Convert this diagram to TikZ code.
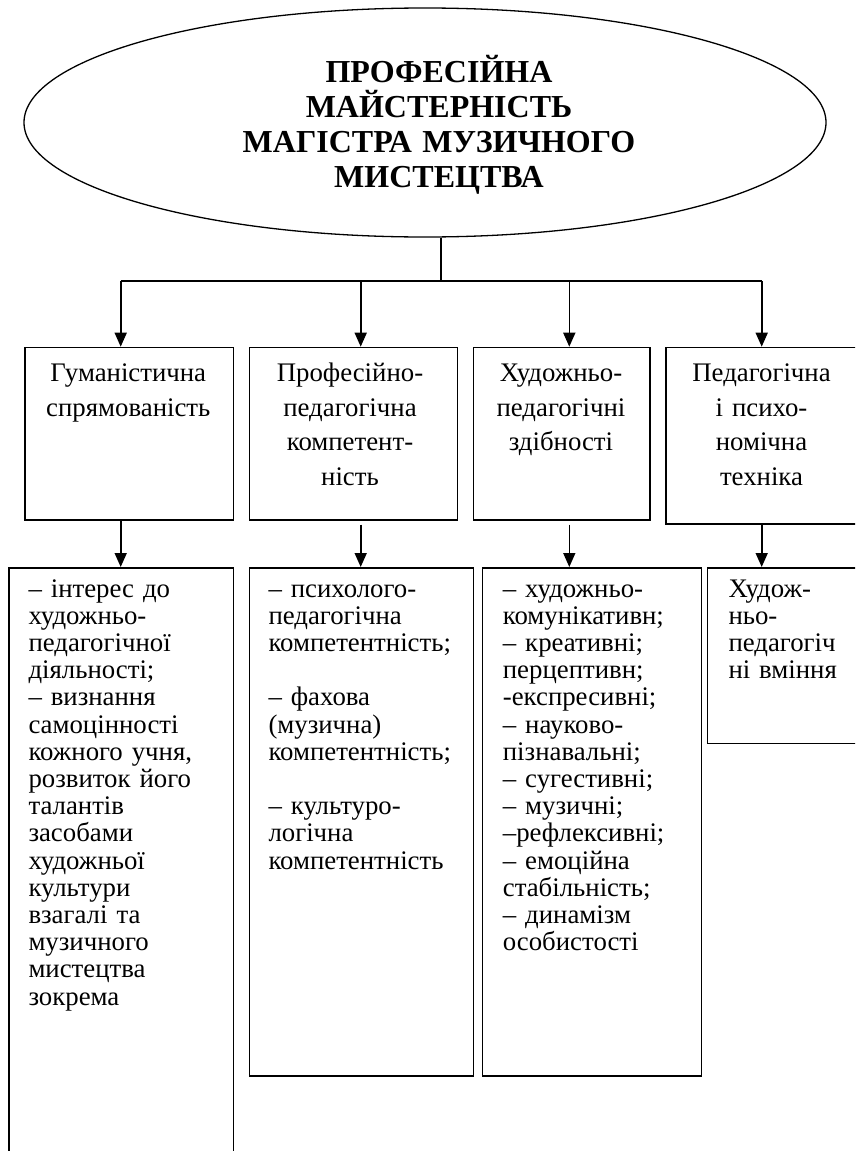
\documentclass[tikz,border=0pt]{standalone}
\usepackage{fontspec}
\setmainfont{Liberation Serif}
\usetikzlibrary{arrows.meta,shapes.geometric}
\tikzset{
  box/.style={draw, line width=1.6pt, rectangle, inner sep=0pt, anchor=north west},
  toptext/.style={anchor=base, align=center, inner sep=0pt, font=\fontsize{26.8pt}{34.5pt}\selectfont},
  lowtext/.style={anchor=base west, align=left, inner sep=0pt, text width=215pt, font=\fontsize{26.8pt}{27.2pt}\selectfont},
  line/.style={line width=1.6pt},
  arr/.style={line width=1.6pt, -{Triangle[width=12pt,length=14pt]}}
}
\begin{document}
\begin{tikzpicture}[x=1pt,y=-1pt]
\useasboundingbox (0,0) rectangle (855,1151);
\clip (0,0) rectangle (855,1151);
% title ellipse
\node[ellipse, draw, line width=1.3pt, inner sep=0pt, minimum width=802pt, minimum height=229pt] (title) at (425,122.5) {};
\node[anchor=base, align=center, inner sep=0pt, text width=560pt, font=\fontsize{32pt}{35pt}\selectfont\bfseries] (titletxt) at (439,82) {ПРОФЕСІЙНА\\МАЙСТЕРНІСТЬ\\МАГІСТРА МУЗИЧНОГО\\МИСТЕЦТВА};
% top boxes
\node[box, minimum width=208.7pt, minimum height=172.3pt] (t1) at (24,346.7) {};
\node[box, minimum width=208pt, minimum height=172.3pt] (t2) at (248.7,346.7) {};
\node[box, minimum width=176.6pt, minimum height=172.3pt] (t3) at (472.7,346.7) {};
\node[box, minimum width=193pt, minimum height=176.6pt] (t4) at (665.3,346.7) {};
\node[toptext, text width=205pt] (t1txt) at (128.3,381.7) {Гуманістична\\спрямованість};
\node[toptext, text width=205pt] (t2txt) at (350,381.7) {Професійно-\\педагогічна\\компетент-\\ність};
\node[toptext, text width=175pt] (t3txt) at (561,381.7) {Художньо-\\педагогічні\\здібності};
\node[toptext, text width=190pt] (t4txt) at (761.5,381.7) {Педагогічна\\і психо-\\номічна\\техніка};
% bottom boxes
\node[box, minimum width=224.7pt, minimum height=600pt] (bA) at (8,567) {};
\node[box, minimum width=224pt, minimum height=508pt] (bB) at (248.7,567) {};
\node[box, minimum width=219pt, minimum height=508pt] (bC) at (481.7,567) {};
\node[box, minimum width=160pt, minimum height=175.7pt] (bD) at (706.7,567) {};
\node[lowtext] (bAtxt) at (28.3,597) {– інтерес до\\художньо-\\педагогічної\\діяльності;\\– визнання\\самоцінності\\кожного учня,\\розвиток його\\талантів\\засобами\\художньої\\культури\\взагалі та\\музичного\\мистецтва\\зокрема};
\node[lowtext] (bBtxt) at (268.3,597) {– психолого-\\педагогічна\\компетентність;\\[27.2pt]– фахова\\(музична)\\компетентність;\\[27.2pt]– культуро-\\логічна\\компетентність};
\node[lowtext] (bCtxt) at (502.7,597) {– художньо-\\комунікативн;\\– креативні;\\перцептивн;\\-експресивні;\\– науково-\\пізнавальні;\\– сугестивні;\\– музичні;\\–рефлексивні;\\– емоційна\\стабільність;\\– динамізм\\особистості};
\node[lowtext, text width=140pt] (bDtxt) at (728.3,597) {Худож-\\ньо-\\педагогіч\\ні вміння};
% connectors
\coordinate (j) at (441,281);
\coordinate (jl) at (120.7,281);
\coordinate (jr) at (761.7,281);
\coordinate (x2) at (360.7,281);
\coordinate (x3) at (569.3,281);
\draw[line] (title.south -| j) -- (j);
\draw[line] (jl) -- (jr);
\draw[arr] (jl) -- (t1.north -| jl);
\draw[arr] (x2) -- (t2.north -| x2);
\draw[arr] (x3) -- (t3.north -| x3);
\draw[arr] (jr) -- (t4.north -| jr);
\draw[arr] (t1.south -| jl) -- (bA.north -| jl);
\draw[arr] ([yshift=-4pt]t2.south -| x2) -- (bB.north -| x2);
\draw[arr] ([yshift=-4pt]t3.south -| x3) -- (bC.north -| x3);
\draw[arr] (t4.south -| jr) -- (bD.north -| jr);
\end{tikzpicture}
\end{document}
